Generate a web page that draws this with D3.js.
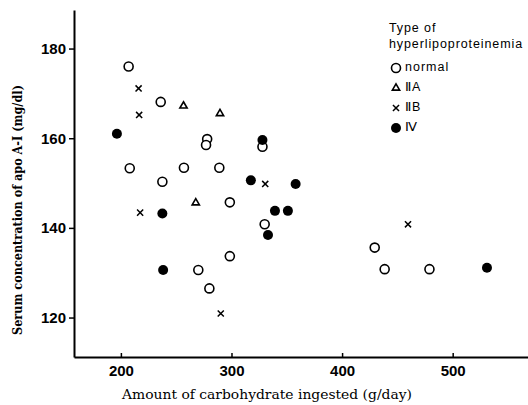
<!DOCTYPE html>
<html><head><meta charset="utf-8">
<script src="https://cdn.jsdelivr.net/npm/d3@7"></script>
<style>
body{margin:0;background:#fff;}
svg{display:block;}
</style></head>
<body>
<svg id="chart" width="528" height="405"></svg>
<script>
// ---- data (carbohydrate g/day, apo A-I mg/dl) ----
const normalX = [207, 236, 208, 237.5, 257, 289, 278, 277, 328, 298.5, 330, 298.5, 270, 280, 429.5, 438.5, 479];
const normalY = [176, 168.1, 153.3, 150.3, 153.4, 153.4, 159.8, 158.5, 158.1, 145.7, 140.8, 133.7, 130.6, 126.5, 135.6, 130.8, 130.8];
const typeIIAX = [256.6, 289.6, 267.7];
const typeIIAY = [167.2, 165.5, 145.6];
const typeIIBX = [216, 216.5, 330.5, 217.4, 290.3, 459.6];
const typeIIBY = [171.1, 165.2, 149.8, 143.4, 120.9, 140.8];
const typeIVX = [196.4, 328, 317.5, 358, 339.3, 351, 333, 237.5, 238.2, 531];
const typeIVY = [161.0, 159.6, 150.6, 149.8, 143.8, 143.8, 138.4, 143.2, 130.6, 131.1];
const xTicks = [200, 300, 400, 500];
const yTicks = [120, 140, 160, 180];
const legendLabels = ["normal", "\u2161A", "\u2161B", "\u2163"];
const xTitle = "Amount of carbohydrate ingested (g/day)";
const yTitle = "Serum concentration of apo A-I (mg/dl)";
const legendTitle = ["Type of", "hyperlipoproteinemia"];

// ---- layout ----
const svg = d3.select("#chart");
const mLeft = 74, mRight = 528, mTop = 10, mBottom = 357;
const x = d3.scaleLinear().domain([157.6, 568.1]).range([mLeft, mRight]);
const y = d3.scaleLinear().domain([111.2, 188.6]).range([mBottom, mTop]);

// axes
const xAxis = svg.append("g").attr("transform", `translate(0,${mBottom})`)
  .call(d3.axisBottom(x).tickValues(xTicks).tickSize(-4).tickPadding(8).tickSizeOuter(0));
const yAxis = svg.append("g").attr("transform", `translate(${mLeft},0)`)
  .call(d3.axisLeft(y).tickValues(yTicks).tickSize(5).tickPadding(3).tickSizeOuter(0));
[xAxis, yAxis].forEach(a => {
  a.select(".domain").attr("stroke", "#000").attr("stroke-width", 2);
  a.selectAll(".tick line").attr("stroke", "#000").attr("stroke-width", 1.5);
  a.selectAll("text").attr("fill", "#000")
    .style("font-family", "'Liberation Sans', Arial, sans-serif")
    .style("font-weight", "bold").style("font-size", "15px");
});

// axis titles
svg.append("text").attr("x", 267).attr("y", 395).attr("text-anchor", "middle")
  .attr("dominant-baseline", "middle")
  .attr("textLength", 290).attr("lengthAdjust", "spacingAndGlyphs")
  .style("font-family", "'DejaVu Serif', serif").style("font-size", "13px")
  .text(xTitle);
svg.append("text").attr("transform", "translate(18,210) rotate(-90)")
  .attr("text-anchor", "middle").attr("dominant-baseline", "middle")
  .attr("textLength", 250).attr("lengthAdjust", "spacingAndGlyphs")
  .style("font-family", "'DejaVu Serif', serif").style("font-size", "13px")
  .style("font-weight", "bold")
  .text(yTitle);

// marks
const groups = [
  {xs: normalX, ys: normalY, type: "circle"},
  {xs: typeIIAX, ys: typeIIAY, type: "triangle"},
  {xs: typeIIBX, ys: typeIIBY, type: "x"},
  {xs: typeIVX, ys: typeIVY, type: "filled"}
];
function drawMarker(g, type) {
  if (type === "circle") {
    g.append("circle").attr("r", 4.5).attr("fill", "#fff").attr("stroke", "#000").attr("stroke-width", 1.6);
  } else if (type === "filled") {
    g.append("circle").attr("r", 5).attr("fill", "#000");
  } else if (type === "triangle") {
    g.append("path").attr("d", d3.symbol(d3.symbolTriangle2 || d3.symbolTriangle, 38)())
      .attr("fill", "none").attr("stroke", "#000").attr("stroke-width", 1.6);
  } else {
    g.append("path").attr("d", d3.symbol(d3.symbolX, 26)())
      .attr("fill", "none").attr("stroke", "#000").attr("stroke-width", 1.5);
  }
}
groups.forEach(gr => {
  gr.xs.forEach((v, i) => {
    const g = svg.append("g").attr("transform", `translate(${x(v)},${y(gr.ys[i])})`);
    drawMarker(g, gr.type);
  });
});

// legend
const lf = "'Liberation Sans', Arial, sans-serif";
legendTitle.forEach((t, i) => {
  svg.append("text").attr("x", 389).attr("y", 29 + i * 16).attr("dominant-baseline", "middle")
    .attr("fill", "#000")
    .style("font-family", lf).style("font-size", "12.5px").style("letter-spacing", "0.9px")
    .text(t);
});
groups.forEach((gr, i) => {
  const cy = 68 + i * 20;
  const g = svg.append("g").attr("transform", `translate(396,${cy})`);
  drawMarker(g, gr.type);
  svg.append("text").attr("x", 405).attr("y", cy).attr("dominant-baseline", "middle")
    .attr("fill", "#000")
    .style("font-family", lf).style("font-size", "12.5px").style("letter-spacing", "1px")
    .text(legendLabels[i]);
});
</script>
</body></html>
